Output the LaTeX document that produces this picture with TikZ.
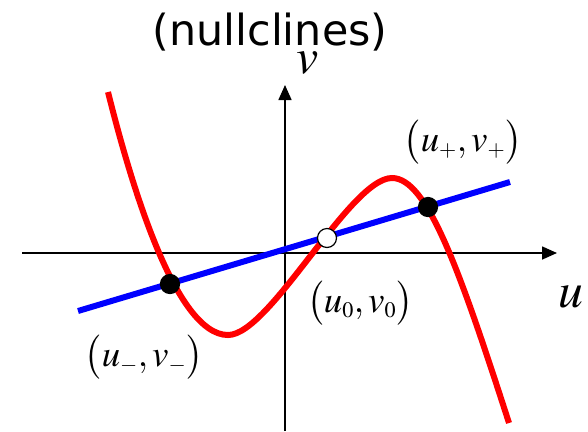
\documentclass[tikz,border=0pt]{standalone}
\usepackage{mathptmx}
\usepackage{fontspec}
\newfontfamily\handfont{DejaVu Sans}
\usetikzlibrary{arrows.meta}
\definecolor{nullred}{HTML}{FF0000}
\definecolor{nullblue}{HTML}{0000FF}

\begin{document}
\begin{tikzpicture}[x=1bp,y=-1bp,
  axis/.style={-{Triangle[length=15bp,width=13bp]},line width=1.6bp},
  cubic/.style={draw=nullred,line width=6bp},
  linear/.style={draw=nullblue,line width=6bp},
  fixed/.style={circle,draw=black,fill=black,line width=1.2bp,minimum size=19bp,inner sep=0pt},
  unstable/.style={fixed,fill=white},
  eqlabel/.style={font=\fontsize{37}{44}\selectfont,inner sep=0pt},
  axlabel/.style={font=\fontsize{50}{60}\selectfont,inner sep=0pt}]
\useasboundingbox (0,0) rectangle (588,431);
\fill[white] (0,0) rectangle (588,431);

% TITLE
\node[font=\handfont\fontsize{43}{50}\selectfont,inner sep=0pt] (title) at (270,32) {(nullclines)};

% AXES
\coordinate (xstart) at (22,253);
\coordinate (xend) at (557,253);
\coordinate (ystart) at (285,431);
\coordinate (yend) at (285,85);
\draw[axis] (xstart) -- (xend);
\draw[axis] (ystart) -- (yend);
\node[axlabel] (ulabel) at (571,297) {$u$};
\node[axlabel] (vlabel) at (308,63) {$v$};

% NULLCLINES: STRAIGHT LINE AND CUBIC
\coordinate (bstart) at (78,311);
\coordinate (bend) at (510,182);
\draw[linear] (bstart) -- (bend);
\coordinate (ctop) at (108,92);
\coordinate (cmin) at (228,335);
\coordinate (cmax) at (392,178);
\coordinate (cend) at (509,423);
\draw[cubic] (ctop) .. controls (130,180) and (175,335) .. (cmin)
  .. controls (270,335) and (350,178) .. (cmax)
  .. controls (427,178) and (459,268) .. (cend);

% FIXED POINTS
\node[fixed] (pminus) at (170,284) {};
\node[unstable] (pzero) at (327,238) {};
\node[fixed] (pplus) at (428,207) {};
\node[eqlabel] (lblminus) at (144,357) {$\bigl(u_{\scriptscriptstyle -},v_{\scriptscriptstyle -}\bigr)$};
\node[eqlabel] (lblzero) at (360,303) {$\bigl(u_{\scriptscriptstyle 0},v_{\scriptscriptstyle 0}\bigr)$};
\node[eqlabel] (lblplus) at (463,142) {$\bigl(u_{\scriptscriptstyle +},v_{\scriptscriptstyle +}\bigr)$};
\end{tikzpicture}
\end{document}
